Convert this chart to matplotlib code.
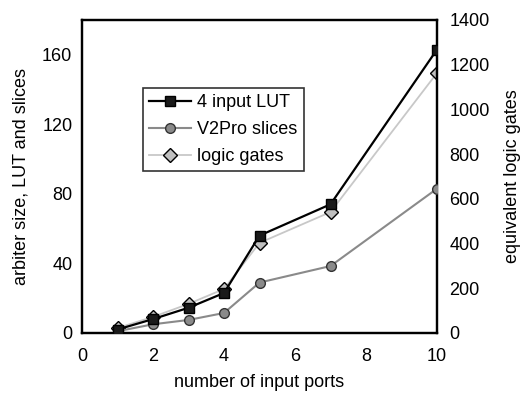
import matplotlib.pyplot as plt
from matplotlib.lines import Line2D

plt.rcParams['font.family'] = ['Liberation Sans', 'DejaVu Sans']

ports = [1, 2, 3, 4, 5, 7, 10]
lut = [2, 8, 14.5, 23, 56, 74, 163]
v2pro_slices = [1, 5, 7.5, 11.5, 29, 38.5, 83]
logic_gates = [22, 72, 130, 197, 403, 541, 1163]

fig = plt.figure(figsize=(5.24, 3.93), dpi=100)
ax = fig.add_axes([0.1565, 0.1527, 0.6775, 0.7965])
ax2 = ax.twinx()

# logic gates on the right axis, drawn under the LUT line
ax2.plot(ports, logic_gates, color='#c8c8c8', lw=1.3, marker='D', ms=7,
         mfc='#c0c0c0', mec='black', mew=1.0, zorder=2)
ax.plot(ports, v2pro_slices, color='#8a8a8a', lw=1.5, marker='o', ms=7,
        mfc='#8a8a8a', mec='#333333', mew=1.0, zorder=3)
ax.plot(ports, lut, color='black', lw=1.6, marker='s', ms=7,
        mfc='#1a1a1a', mec='black', zorder=4)
ax.set_zorder(ax2.get_zorder() + 1)
ax.patch.set_visible(False)

ax.set_xlim(0, 10)
ax.set_ylim(0, 180)
ax2.set_ylim(0, 1400)
ax.set_xticks([0, 2, 4, 6, 8, 10])
ax.set_yticks([0, 40, 80, 120, 160])
ax2.set_yticks([0, 200, 400, 600, 800, 1000, 1200, 1400])

for a in (ax, ax2):
    a.tick_params(length=0, labelsize=13)
    for s in a.spines.values():
        s.set_linewidth(1.6)
ax.tick_params(axis='x', pad=11)
ax.tick_params(axis='y', pad=7)
ax2.tick_params(axis='y', pad=9)

ax.set_xlabel('number of input ports', fontsize=13, labelpad=6)
ax.set_ylabel('arbiter size, LUT and slices', fontsize=13, labelpad=9)
ax2.set_ylabel('equivalent logic gates', fontsize=13, labelpad=10)

handles = [
    Line2D([0], [0], color='black', lw=1.6, marker='s', ms=7, mfc='#1a1a1a', mec='black'),
    Line2D([0], [0], color='#8a8a8a', lw=1.5, marker='o', ms=7, mfc='#8a8a8a', mec='#333333'),
    Line2D([0], [0], color='#c8c8c8', lw=1.3, marker='D', ms=7, mfc='#c0c0c0', mec='black'),
]
leg = ax.legend(handles, ['4 input LUT', 'V2Pro slices', 'logic gates'],
                loc='upper left', bbox_to_anchor=(0.172, 0.783), borderaxespad=0,
                fontsize=13, frameon=True, fancybox=False, edgecolor='black',
                handlelength=2.3, borderpad=0.35, labelspacing=0.55, handletextpad=0.35)
leg.get_frame().set_linewidth(1.2)

fig.savefig('out.png', dpi=100)
